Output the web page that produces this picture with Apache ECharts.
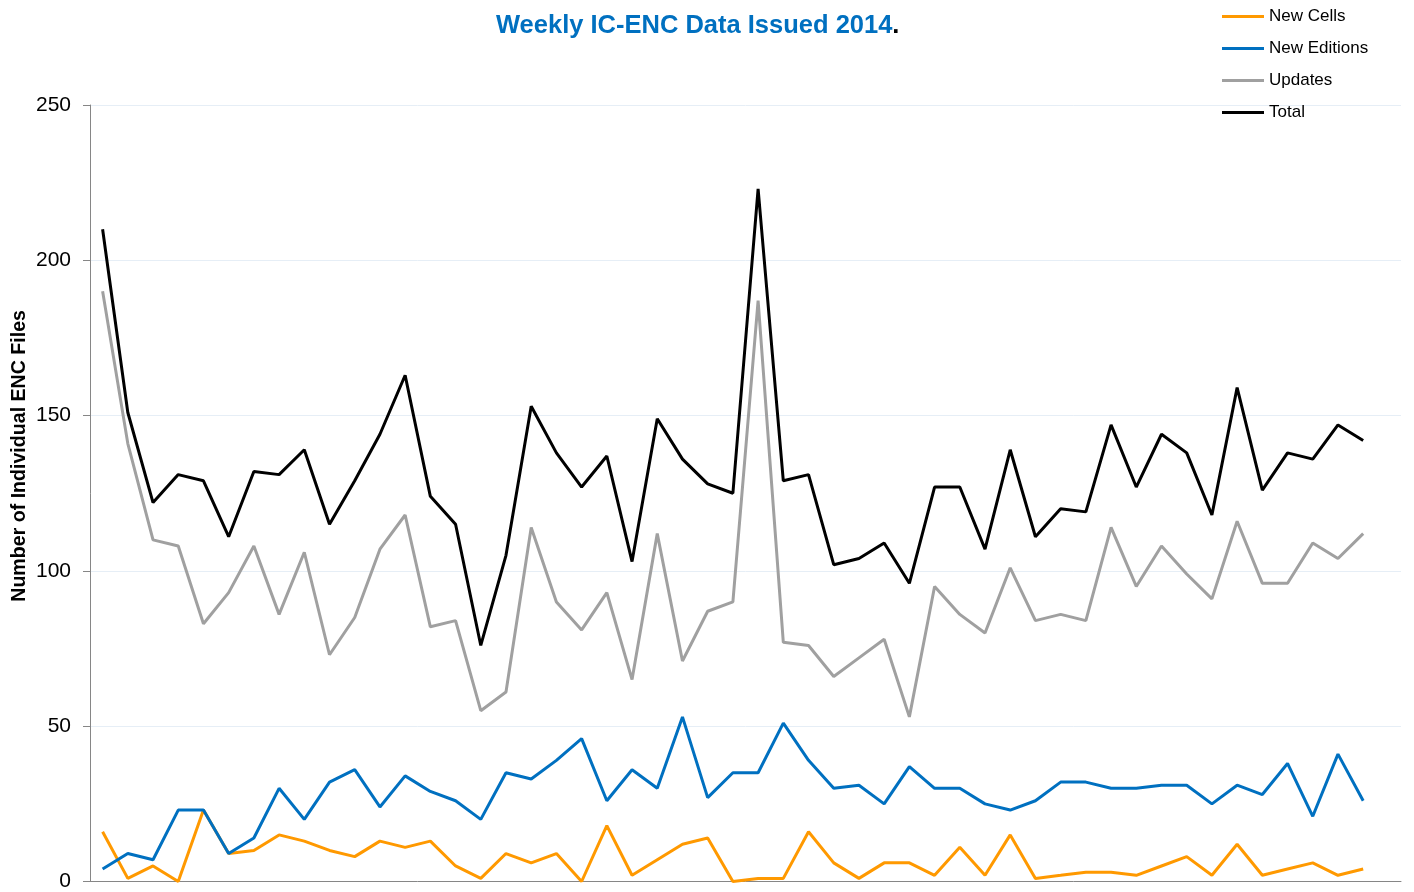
<!DOCTYPE html>
<html>
<head>
<meta charset="utf-8">
<script src="https://cdn.jsdelivr.net/npm/echarts@6/dist/echarts.min.js"></script>
<style>
  html, body { margin: 0; padding: 0; background: #fff; }
  #chart { width: 1414px; height: 892px; }
</style>
</head>
<body>
<div id="chart"></div>
<script>
// week numbers (category axis, labels hidden)
const weeks = Array.from({ length: 52 }, (_, i) => 'Week ' + (i + 1));

const newCells = [16, 1, 5, 0, 23, 9, 10, 15, 13, 10, 8, 13, 11, 13, 5, 1, 9, 6, 9, 0,
  18, 2, 7, 12, 14, 0, 1, 1, 16, 6, 1, 6, 6, 2, 11, 2, 15, 1, 2, 3,
  3, 2, 5, 8, 2, 12, 2, 4, 6, 2, 4];
const newEditions = [4, 9, 7, 23, 23, 9, 14, 30, 20, 32, 36, 24, 34, 29, 26, 20, 35, 33, 39, 46,
  26, 36, 30, 53, 27, 35, 35, 51, 39, 30, 31, 25, 37, 30, 30, 25, 23, 26, 32, 32,
  30, 30, 31, 31, 25, 31, 28, 38, 21, 41, 26];
const updates = [190, 141, 110, 108, 83, 93, 108, 86, 106, 73, 85, 107, 118, 82, 84, 55, 61, 114, 90, 81,
  93, 65, 112, 71, 87, 90, 187, 77, 76, 66, 72, 78, 53, 95, 86, 80, 101, 84, 86, 84,
  114, 95, 108, 99, 91, 116, 96, 96, 109, 104, 112];
const total = [210, 151, 122, 131, 129, 111, 132, 131, 139, 115, 129, 144, 163, 124, 115, 76, 105, 153, 138, 127,
  137, 103, 149, 136, 128, 125, 223, 129, 131, 102, 104, 109, 96, 127, 127, 107, 139, 111, 120, 119,
  147, 127, 144, 138, 118, 159, 126, 138, 136, 147, 142];

const seriesNames = ['New Cells', 'New Editions', 'Updates', 'Total'];
const seriesColors = ['#FF9900', '#0070C0', '#A0A0A0', '#000000'];
const seriesData = [newCells, newEditions, updates, total];

const chart = echarts.init(document.getElementById('chart'));

chart.setOption({
  animation: false,
  textStyle: { fontFamily: 'Liberation Sans, Arial, sans-serif' },
  title: {
    text: '{a|Weekly IC-ENC Data Issued 2014}{b|.}',
    left: 491,
    top: 8,
    textStyle: {
      rich: {
        a: { fontSize: 25.5, fontWeight: 'bold', color: '#0070C0', fontFamily: 'Liberation Sans' },
        b: { fontSize: 25.5, fontWeight: 'bold', color: '#000', fontFamily: 'Liberation Sans' }
      }
    }
  },
  legend: {
    orient: 'vertical',
    left: 1217,
    top: 3,
    icon: 'rect',
    itemWidth: 42,
    itemHeight: 3,
    itemGap: 15,
    data: seriesNames,
    textStyle: { fontSize: 17, color: '#000', fontFamily: 'Liberation Sans' }
  },
  grid: {
    left: 90,
    right: 13,
    top: 105,
    bottom: 9
  },
  graphic: [{
    type: 'text',
    left: 10,
    top: 310,
    style: {
      text: 'Number of Individual ENC Files',
      font: 'bold 19.6px Liberation Sans',
      fill: '#000'
    },
    rotation: Math.PI / 2
  }],
  xAxis: {
    type: 'category',
    data: weeks,
    axisLine: { lineStyle: { color: '#868686', width: 1 } },
    axisTick: { length: 7, lineStyle: { color: '#868686' } },
    axisLabel: { show: false },
    splitLine: { show: false }
  },
  yAxis: {
    type: 'value',
    min: 0,
    max: 250,
    interval: 50,
    axisLine: { show: true, lineStyle: { color: '#868686', width: 1 } },
    axisTick: { show: true, length: 7, lineStyle: { color: '#868686' } },
    axisLabel: { fontSize: 21, color: '#000', margin: 19, fontFamily: 'Liberation Sans' },
    splitLine: { lineStyle: { color: '#E6EEF6', width: 1 } }
  },
  series: seriesNames.map((name, i) => ({
    name: name,
    type: 'line',
    data: seriesData[i],
    symbol: 'none',
    color: seriesColors[i],
    lineStyle: { width: 3, color: seriesColors[i] }
  }))
});
</script>
</body>
</html>
